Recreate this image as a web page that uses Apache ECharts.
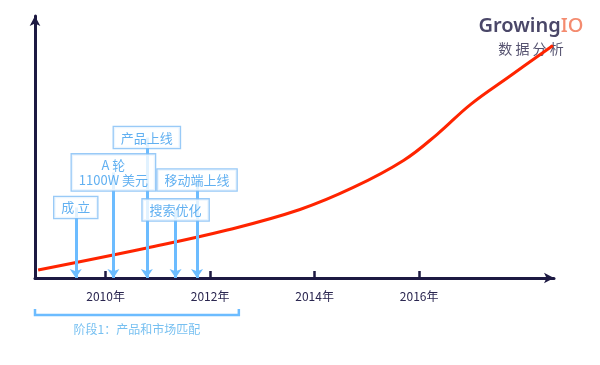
<!DOCTYPE html>
<html>
<head>
<meta charset="utf-8">
<script src="https://cdn.jsdelivr.net/npm/echarts@6/dist/echarts.min.js"></script>
<style>html,body{margin:0;padding:0;background:#fff}#c{width:600px;height:365px}</style>
</head>
<body>
<div id="c"></div>
<script>
// ---- data ----
const curveYears = [2008.71, 2010.79, 2012.33, 2013.72, 2014.74, 2015.70, 2016.35, 2016.98, 2017.74, 2018.56];
const curveValues = [3.05, 11.45, 18.3, 26.15, 34.55, 44.85, 54.95, 66.2, 77.1, 88.75];

const eventNames = ['成 立', 'A 轮\n1100W 美元', '产品上线', '搜索优化', '移动端上线'];
const eventYears = [2009.43, 2010.15, 2010.79, 2011.34, 2011.75];
const eventLabelLevels = [26.9, 40.3, 53.6, 26.0, 37.4];

const tickYears = [2010, 2012, 2014, 2016];
const tickLabels = ['2010年', '2012年', '2014年', '2016年'];

const stageName = '阶段1：产品和市场匹配';
const stageRange = [2008.65, 2012.55];

const xRange = [2008.65, 2018.58];

// ---- layout / style ----
const AXIS = '#1d1942';
const BLUE_LINE = '#6cbcff';
const FONT = '"Noto Sans CJK SC", "Noto Sans", sans-serif';
const bracketTop = -11.8, bracketBottom = -14.1, stageLabelLevel = -19.8;
const HIDDEN = 'rgba(0,0,0,0)';

const chart = echarts.init(document.getElementById('c'));
chart.setOption({
  animation: false,
  backgroundColor: '#fff',
  grid: { left: 35, right: 46, top: 16, bottom: 87 },
  xAxis: {
    type: 'value', min: xRange[0], max: xRange[1],
    splitLine: { show: false },
    axisLine: { show: true, onZero: true, symbol: ['none', 'arrow'], symbolSize: [8, 10],
      lineStyle: { color: AXIS, width: 3 } },
    axisTick: { show: true, inside: true, length: 7, customValues: tickYears,
      lineStyle: { color: AXIS, width: 2.5 } },
    axisLabel: { show: true, customValues: tickYears, margin: 12, fontSize: 12, color: '#2a2650',
      fontFamily: FONT,
      formatter: v => tickLabels[tickYears.indexOf(Math.round(v))] || '' }
  },
  yAxis: {
    type: 'value', min: 0, max: 100,
    splitLine: { show: false },
    axisLine: { show: true, onZero: false, symbol: ['none', 'arrow'], symbolSize: [8, 10],
      lineStyle: { color: AXIS, width: 3 } },
    axisTick: { show: false },
    axisLabel: { show: false }
  },
  graphic: [
    { type: 'text', x: 531, y: 26, style: {
        text: '{a|Growing}{b|IO}', align: 'center', verticalAlign: 'middle',
        rich: {
          a: { fontSize: 20, fill: '#4a4768', fontFamily: '"Noto Sans", sans-serif', fontWeight: 600 },
          b: { fontSize: 20, fill: '#f48b6f', fontFamily: '"Noto Sans", sans-serif', fontWeight: 500 }
        } } },
    { type: 'text', x: 531, y: 49, style: {
        text: '数 据 分 析', align: 'center', verticalAlign: 'middle',
        fontSize: 14, fill: '#55526f', fontFamily: FONT } }
  ],
  series: [
    {
      type: 'line', name: 'growth', smooth: 0.4, showSymbol: false, clip: false, z: 3,
      data: curveYears.map((y, i) => [y, curveValues[i]]),
      lineStyle: { color: '#ff2400', width: 3 }
    },
    {
      type: 'lines', coordinateSystem: 'cartesian2d', z: 4, clip: false,
      symbol: ['none', 'arrow'], symbolSize: [8, 9], symbolOffset: [0, '50%'],
      lineStyle: { color: BLUE_LINE, width: 3, opacity: 1 },
      data: eventYears.map((y, i) => ({ coords: [[y, eventLabelLevels[i]], [y, 0]] }))
    },
    {
      type: 'scatter', z: 5, clip: false, symbolSize: 1, itemStyle: { color: HIDDEN },
      data: eventYears.map((y, i) => ({ value: [y, eventLabelLevels[i]], name: eventNames[i] })),
      label: {
        show: true, position: 'inside', formatter: p => p.name,
        fontSize: 13, lineHeight: 15, color: '#3a9cee', fontFamily: FONT, align: 'center',
        backgroundColor: '#fff', borderColor: '#80bdf5', borderWidth: 1.3, padding: [3, 7]
      }
    },
    {
      type: 'lines', coordinateSystem: 'cartesian2d', polyline: true, z: 4, clip: false,
      lineStyle: { color: BLUE_LINE, width: 2.5, opacity: 1 },
      data: [{ coords: [[stageRange[0], bracketTop], [stageRange[0], bracketBottom],
                        [stageRange[1], bracketBottom], [stageRange[1], bracketTop]] }]
    },
    {
      type: 'scatter', z: 5, clip: false, symbolSize: 1, itemStyle: { color: HIDDEN },
      data: [{ value: [(stageRange[0] + stageRange[1]) / 2, stageLabelLevel], name: stageName }],
      label: { show: true, position: 'inside', formatter: p => p.name, fontSize: 12,
        color: '#55b0ee', fontFamily: FONT }
    }
  ]
});
</script>
</body>
</html>
